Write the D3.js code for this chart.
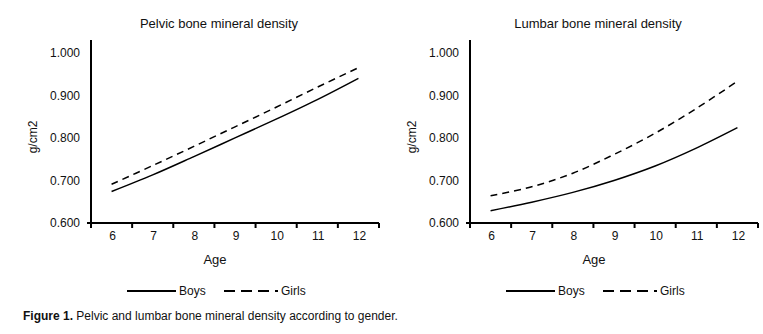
<!DOCTYPE html>
<html>
<head>
<meta charset="utf-8">
<script src="https://cdn.jsdelivr.net/npm/d3@7"></script>
<style>
  body { margin: 0; background: #fff; }
  text { font-family: "Liberation Sans", Arial, sans-serif; fill: #111; }
</style>
</head>
<body>
<div id="chart"></div>
<script>
var ages = [6, 7, 8, 9, 10, 11, 12];
var yTicks = [0.6, 0.7, 0.8, 0.9, 1.0];

var pelvicBoys = [0.674, 0.713, 0.756, 0.800, 0.844, 0.890, 0.940];
var pelvicGirls = [0.691, 0.735, 0.780, 0.826, 0.872, 0.919, 0.965];
var lumbarBoys = [0.629, 0.649, 0.672, 0.700, 0.734, 0.776, 0.824];
var lumbarGirls = [0.664, 0.685, 0.717, 0.761, 0.811, 0.869, 0.933];

var titles = ["Pelvic bone mineral density", "Lumbar bone mineral density"];
var seriesNames = ["Boys", "Girls"];

var width = 763, height = 334;

var svg = d3.select("#chart").append("svg")
    .attr("width", width)
    .attr("height", height);

function panel(left, title, boys, girls) {
    var x0 = left + 91, x1 = left + 379;
    var x = d3.scaleBand().domain(ages).range([x0, x1]);
    var y = d3.scaleLinear().domain([0.6, 1.03]).range([223, 40]);
    var g = svg.append("g");

    g.append("text")
        .attr("x", left + 219)
        .attr("y", 28)
        .attr("text-anchor", "middle")
        .style("font-size", "13px")
        .text(title);

    // y labels
    g.append("g")
        .attr("transform", `translate(${x0},0)`)
        .call(d3.axisLeft(y).tickValues(yTicks).tickFormat(d3.format(".3f")).tickSize(0).tickPadding(11))
        .call(s => s.select(".domain").remove())
        .selectAll("text")
        .style("font-size", "12px")
        .attr("font-family", null);

    g.append("line")
        .attr("x1", x0).attr("x2", x0)
        .attr("y1", y(1.03)).attr("y2", y(0.6))
        .attr("stroke", "#000").attr("stroke-width", 2);

    g.append("line")
        .attr("x1", x0 - 4).attr("x2", x1)
        .attr("y1", y(0.6)).attr("y2", y(0.6))
        .attr("stroke", "#000").attr("stroke-width", 2);

    // x ticks between categories
    var edges = ages.map(a => x(a)).concat([x1]);
    g.selectAll(".xt").data(edges).join("line")
        .attr("x1", d => d).attr("x2", d => d)
        .attr("y1", y(0.6)).attr("y2", y(0.6) + 5)
        .attr("stroke", "#000").attr("stroke-width", 2);

    g.selectAll(".xl").data(ages).join("text")
        .attr("x", d => x(d) + x.bandwidth() / 2 + 1)
        .attr("y", 240)
        .attr("text-anchor", "middle")
        .style("font-size", "12px")
        .text(d => d);

    g.append("text")
        .attr("x", left + 215)
        .attr("y", 264)
        .attr("text-anchor", "middle")
        .style("font-size", "13px")
        .text("Age");

    g.append("text")
        .attr("transform", `translate(${left + 37},137)rotate(-90)`)
        .attr("text-anchor", "middle")
        .style("font-size", "12px")
        .text("g/cm2");

    var line = d3.line()
        .x((d, i) => x(ages[i]) + x.bandwidth() / 2)
        .y(d => y(d))
        .curve(d3.curveCatmullRom);

    g.append("path").datum(boys)
        .attr("d", line)
        .attr("fill", "none").attr("stroke", "#000").attr("stroke-width", 1.5);

    g.append("path").datum(girls)
        .attr("d", line)
        .attr("fill", "none").attr("stroke", "#000").attr("stroke-width", 1.5)
        .attr("stroke-dasharray", "7,5");

    // legend
    var ly = 291;
    g.append("line")
        .attr("x1", left + 127).attr("x2", left + 176)
        .attr("y1", ly).attr("y2", ly)
        .attr("stroke", "#000").attr("stroke-width", 2);
    g.append("text")
        .attr("x", left + 179).attr("y", ly + 4)
        .style("font-size", "12px")
        .text(seriesNames[0]);
    g.append("line")
        .attr("x1", left + 224).attr("x2", left + 278)
        .attr("y1", ly).attr("y2", ly)
        .attr("stroke", "#000").attr("stroke-width", 2)
        .attr("stroke-dasharray", "11,6");
    g.append("text")
        .attr("x", left + 281).attr("y", ly + 4)
        .style("font-size", "12px")
        .text(seriesNames[1]);
}

panel(0, titles[0], pelvicBoys, pelvicGirls);
panel(379, titles[1], lumbarBoys, lumbarGirls);

var cap = svg.append("text")
    .attr("x", 23).attr("y", 320)
    .style("font-size", "12px");
cap.append("tspan").attr("font-weight", "bold").text("Figure 1.");
cap.append("tspan").text(" Pelvic and lumbar bone mineral density according to gender.");
</script>
</body>
</html>
